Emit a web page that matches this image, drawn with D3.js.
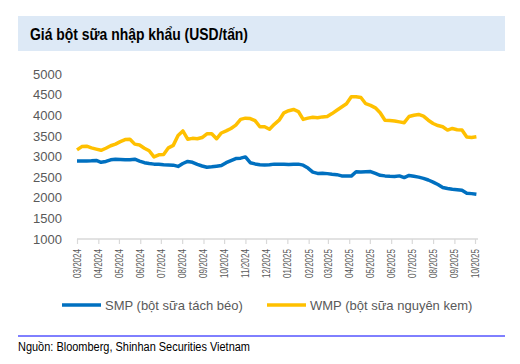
<html lang="vi">
<head>
	<meta charset="utf-8">
	<title>Giá bột sữa nhập khẩu</title>
	<script src="https://d3js.org/d3.v7.min.js"></script>
	<style>
		body {
			margin: 0;
			background: #fff;
		}
		svg {
			display: block;
		}
		.line {
			fill: none;
			stroke-width: 3.5px;
			stroke-linejoin: round;
		}
		.narrow {
			font-family: "Liberation Sans Narrow", "Arial Narrow", "Liberation Sans", Arial, sans-serif;
		}
		.axis-text {
			font-family: "Liberation Sans", Arial, sans-serif;
			fill: #595959;
		}
	</style>
</head>
<body>
	<svg id="chart" width="520" height="364"></svg>
<script>
    // weekly dates (Friday close)
    var dates = [
        "2024-03-01","2024-03-08","2024-03-15","2024-03-22","2024-03-29",
        "2024-04-05","2024-04-12","2024-04-19","2024-04-26",
        "2024-05-03","2024-05-10","2024-05-17","2024-05-24","2024-05-31",
        "2024-06-07","2024-06-14","2024-06-21","2024-06-28",
        "2024-07-05","2024-07-12","2024-07-19","2024-07-26",
        "2024-08-02","2024-08-09","2024-08-16","2024-08-23","2024-08-30",
        "2024-09-06","2024-09-13","2024-09-20","2024-09-27",
        "2024-10-04","2024-10-11","2024-10-18","2024-10-25",
        "2024-11-01","2024-11-08","2024-11-15","2024-11-22","2024-11-29",
        "2024-12-06","2024-12-13","2024-12-20","2024-12-27",
        "2025-01-03","2025-01-10","2025-01-17","2025-01-24","2025-01-31",
        "2025-02-07","2025-02-14","2025-02-21","2025-02-28",
        "2025-03-07","2025-03-14","2025-03-21","2025-03-28",
        "2025-04-04","2025-04-11","2025-04-18","2025-04-25",
        "2025-05-02","2025-05-09","2025-05-16","2025-05-23","2025-05-30",
        "2025-06-06","2025-06-13","2025-06-20","2025-06-27",
        "2025-07-04","2025-07-11","2025-07-18","2025-07-25",
        "2025-08-01","2025-08-08","2025-08-15","2025-08-22","2025-08-29",
        "2025-09-05","2025-09-12","2025-09-19","2025-09-26",
        "2025-10-03"
    ];

    // SMP - bột sữa tách béo (USD/tấn)
    var smp = [
        2890,2890,2890,2895,2905,2860,2880,2920,2935,2930,
        2920,2920,2935,2890,2850,2830,2815,2810,2800,2795,
        2790,2760,2830,2880,2860,2810,2770,2740,2750,2765,
        2780,2850,2900,2950,2960,2990,2850,2820,2800,2795,
        2800,2815,2815,2810,2805,2810,2815,2790,2720,2620,
        2590,2595,2585,2570,2560,2530,2525,2525,2630,2625,
        2630,2635,2590,2545,2530,2520,2515,2530,2490,2540,
        2520,2500,2470,2430,2380,2320,2250,2225,2205,2195,
        2180,2110,2100,2085
    ];

    // WMP - bột sữa nguyên kem (USD/tấn)
    var wmp = [
        3160,3240,3250,3210,3180,3150,3200,3260,3300,3360,
        3410,3420,3300,3280,3200,3140,2990,3040,3050,3210,
        3270,3510,3620,3420,3440,3430,3460,3550,3550,3430,
        3570,3620,3680,3760,3900,3930,3920,3870,3720,3720,
        3660,3780,3880,4060,4110,4140,4090,3900,3930,3950,
        3940,3960,3970,4040,4120,4200,4280,4450,4450,4430,
        4280,4240,4180,4060,3880,3870,3860,3840,3820,3970,
        4000,4020,3980,3880,3800,3750,3720,3640,3680,3650,
        3640,3470,3460,3480
    ];

    var yTicks = [1000, 1500, 2000, 2500, 3000, 3500, 4000, 4500, 5000];
    var seriesNames = ["SMP (bột sữa tách béo)", "WMP (bột sữa nguyên kem)"];
    var seriesColors = ["#0070C0", "#FFC000"];

    var parseDate = d3.timeParse("%Y-%m-%d");
    var svg = d3.select("#chart");

    // title band
    svg.append("rect")
        .attr("x", 18).attr("y", 16)
        .attr("width", 487).attr("height", 35)
        .attr("fill", "#dde9f6");
    svg.append("text")
        .attr("class", "narrow")
        .attr("x", 30).attr("y", 40)
        .attr("textLength", 218)
        .attr("lengthAdjust", "spacingAndGlyphs")
        .style("font-size", "16.5px")
        .style("font-weight", "bold")
        .attr("fill", "#000")
        .text("Giá bột sữa nhập khẩu (USD/tấn)");

    // scales
    var x = d3.scaleTime()
        .domain([parseDate("2024-03-01"), parseDate("2025-10-03")])
        .range([77, 476.4]);
    var y = d3.scaleLinear()
        .domain([1000, 5000])
        .range([239, 74]);

    var monthTicks = d3.timeMonth.range(parseDate("2024-03-01"), parseDate("2025-10-02"));

    // x axis
    var xAxis = svg.append("g")
        .attr("transform", "translate(0,239)")
        .call(d3.axisBottom(x).tickValues(monthTicks).tickFormat(d3.timeFormat("%m/%Y")).tickSize(5).tickSizeOuter(0));
    xAxis.select(".domain").remove();
    xAxis.append("line")
        .attr("x1", 77).attr("x2", 478)
        .attr("stroke", "#d9d9d9").attr("stroke-width", 1.5);
    xAxis.selectAll(".tick line").attr("stroke", "#d9d9d9").attr("stroke-width", 1.2);
    xAxis.selectAll(".tick text")
        .attr("class", "narrow")
        .attr("fill", "#595959")
        .style("font-size", "10px")
        .attr("textLength", 29)
        .attr("lengthAdjust", "spacingAndGlyphs")
        .attr("transform", "rotate(-90)")
        .attr("text-anchor", "end")
        .attr("x", -10)
        .attr("y", 0)
        .attr("dy", "0.35em");

    // y axis labels only
    var yAxis = svg.append("g")
        .attr("transform", "translate(62,0)")
        .call(d3.axisLeft(y).tickValues(yTicks).tickFormat(d3.format("d")).tickSize(0).tickPadding(0));
    yAxis.select(".domain").remove();
    yAxis.selectAll(".tick text")
        .attr("class", "axis-text")
        .style("font-size", "13px");

    // lines
    var line = d3.line()
        .x(function (d) { return x(d.date); })
        .y(function (d) { return y(d.value); });

    var allSeries = [smp, wmp].map(function (vals, index) {
        return {
            name: seriesNames[index],
            color: seriesColors[index],
            values: vals.map(function (v, i) {
                return {date: parseDate(dates[i]), value: v};
            })
        };
    });

    // WMP drawn first so SMP sits on top like in the original
    svg.selectAll(".series")
        .data(allSeries.slice().reverse())
        .enter().append("path")
        .attr("class", "line")
        .attr("d", function (d) { return line(d.values); })
        .style("stroke", function (d) { return d.color; });

    // legend
    var legendX = [62, 267];
    var legend = svg.selectAll(".legend")
        .data(allSeries)
        .enter().append("g")
        .attr("class", "legend")
        .attr("transform", function (d, i) { return "translate(" + legendX[i] + ",305)"; });
    legend.append("line")
        .attr("x1", 0).attr("x2", 39)
        .attr("stroke", function (d) { return d.color; })
        .attr("stroke-width", 3.5);
    legend.append("text")
        .attr("class", "axis-text")
        .attr("x", 43)
        .attr("dy", "0.35em")
        .style("font-size", "13px")
        .text(function (d) { return d.name; });

    // source
    svg.append("line")
        .attr("x1", 18).attr("x2", 505)
        .attr("y1", 336).attr("y2", 336)
        .attr("stroke", "#0000ff").attr("stroke-width", 1);
    svg.append("text")
        .attr("class", "narrow")
        .attr("x", 18).attr("y", 351)
        .attr("textLength", 232)
        .attr("lengthAdjust", "spacingAndGlyphs")
        .style("font-size", "12.5px")
        .attr("fill", "#000")
        .text("Nguồn: Bloomberg, Shinhan Securities Vietnam");
</script>
</body>
</html>
